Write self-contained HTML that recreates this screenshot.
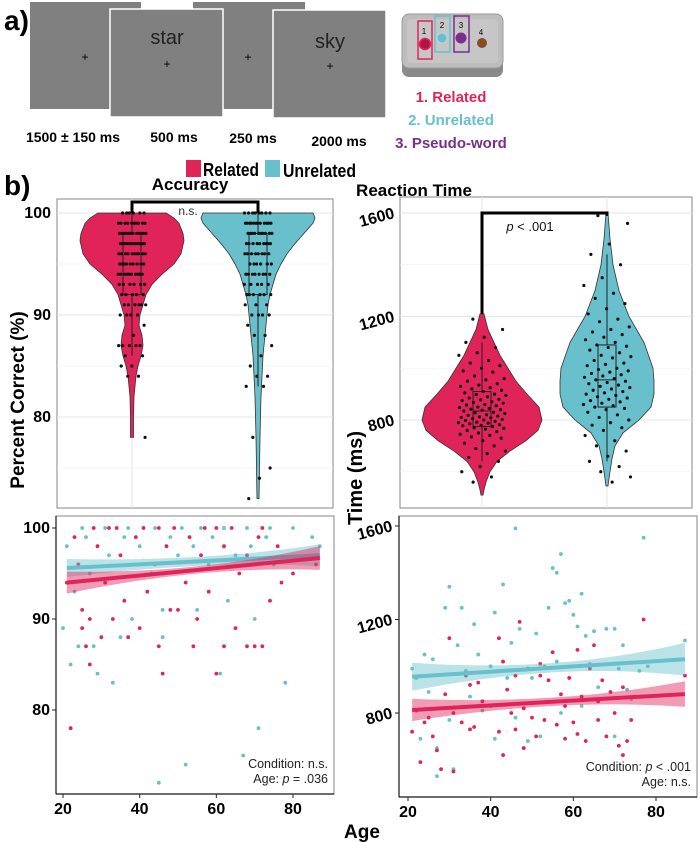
<!DOCTYPE html>
<html><head><meta charset="utf-8"><style>
html,body{margin:0;padding:0;background:#fff}
svg{display:block;font-family:"Liberation Sans",sans-serif}
</style></head><body>
<svg id="fig" width="700" height="842" viewBox="0 0 700 842" xmlns="http://www.w3.org/2000/svg">
<g>
<text x="4" y="30" font-size="28" font-weight="bold">a)</text>
<rect x="30" y="2" width="111" height="107" fill="#808080"/>
<text x="85" y="61" font-size="12" text-anchor="middle">+</text>
<rect x="193" y="2" width="112" height="107" fill="#808080"/>
<text x="248" y="61" font-size="12" text-anchor="middle">+</text>
<rect x="110" y="9" width="113" height="108" fill="#808080" stroke="#fff" stroke-width="1.5"/>
<text x="167" y="44" font-size="20" text-anchor="middle" fill="#222">star</text>
<text x="167" y="68" font-size="12" text-anchor="middle">+</text>
<rect x="273" y="10" width="113" height="108" fill="#808080" stroke="#fff" stroke-width="1.5"/>
<text x="330" y="48" font-size="20" text-anchor="middle" fill="#222">sky</text>
<text x="330" y="70" font-size="12" text-anchor="middle">+</text>
<g font-size="14" font-weight="bold" text-anchor="middle">
<text x="73" y="142">1500 ± 150 ms</text>
<text x="174" y="142">500 ms</text>
<text x="253" y="143">250 ms</text>
<text x="339" y="146">2000 ms</text>
</g>
<g>
<rect x="402" y="22" width="101" height="55" rx="7" fill="#8a8a8a"/>
<rect x="402" y="14" width="101" height="54" rx="7" fill="#bdbdbd" stroke="#9a9a9a"/>
<rect x="407" y="19" width="91" height="44" rx="4" fill="#c6c6c6"/>
<circle cx="425" cy="44" r="5.5" fill="#b0154a" stroke="#e0245a" stroke-width="1.5"/>
<circle cx="442" cy="38" r="5" fill="#67c0cc" stroke="#a5dce4"/>
<circle cx="461" cy="38" r="5.5" fill="#7b2d8e"/>
<circle cx="482" cy="43" r="5" fill="#8b4a2a"/>
<rect x="418" y="21" width="14" height="38" fill="none" stroke="#e0245a" stroke-width="1.5"/>
<rect x="435" y="16" width="15" height="36" fill="none" stroke="#67c0cc" stroke-width="1.5"/>
<rect x="454" y="16" width="15" height="36" fill="none" stroke="#7b2d8e" stroke-width="1.5"/>
<g font-size="8" text-anchor="middle"><text x="424" y="34">1</text><text x="442" y="28">2</text><text x="461" y="28">3</text><text x="481" y="35">4</text></g>
</g>
<g font-size="15" font-weight="bold" text-anchor="middle">
<text x="451" y="102" fill="#e0245a">1. Related</text>
<text x="451" y="125" fill="#67c0cc">2. Unrelated</text>
<text x="451" y="148" fill="#7b2d8e">3. Pseudo-word</text>
</g>
</g>
<text x="4" y="195" font-size="28" font-weight="bold">b)</text>
<g>
<rect x="186" y="160" width="15" height="17" fill="#e0245a"/>
<text x="203" y="176" font-size="18" font-weight="bold" textLength="56" lengthAdjust="spacingAndGlyphs">Related</text>
<rect x="265" y="160" width="15" height="17" fill="#67c0cc"/>
<text x="283" y="177" font-size="18" font-weight="bold" textLength="73" lengthAdjust="spacingAndGlyphs">Unrelated</text>
</g>
<text x="190" y="190" font-size="17" font-weight="bold" text-anchor="middle">Accuracy</text>
<text x="414" y="196" font-size="17" font-weight="bold" text-anchor="middle">Reaction Time</text>
<g id="charts"></g>
<text transform="translate(24,400) rotate(-90)" font-size="19" font-weight="bold" text-anchor="middle">Percent Correct (%)</text>
<text transform="translate(362,478) rotate(-90)" font-size="20" font-weight="bold" text-anchor="middle">Time (ms)</text>
<text x="362" y="838" font-size="19" font-weight="bold" text-anchor="middle">Age</text>
</svg>
<script>
// ---- data ----
const accLevels = [100,99,98,97,96,95,94,93,92,91,90,89,88,87,86,85,84,83,78,75,74,72];
const accRelCounts = [6,10,12,12,10,9,10,6,5,6,4,1,1,5,2,2,2,0,1,0,0,0];
const accUnrCounts = [8,12,10,9,8,6,8,5,6,3,4,1,2,1,1,1,2,2,1,1,1,1];
const violinAccRelV = [100,99.5,99,98,97.3,96,95,94,93,92,91,90,89,88,87,86,85,84,83,82,80,78];
const violinAccRelW = [34,42,47,51,52,49,42,30,20,14,11,8,7,10,11,9,6,4,3,2,1.5,1.5];
const violinAccUnrV = [100,99.5,99,98,97,96,95,94,93,92,91,90,89,88,87,86,85,84,82,80,78,75,73,72];
const violinAccUnrW = [55,57,55,46,37,29,23,18,15,12,10,9,8,7,6,5,4.5,4,3,2.5,2,1.5,1.2,1];
const violinRtRelV = [1210,1150,1100,1050,1000,950,900,850,800,760,720,680,640,600,560,530,510];
const violinRtRelW = [2,6,12,18,26,34,45,57,60,56,44,28,15,8,4,2,1];
const violinRtUnrV = [1600,1500,1400,1300,1200,1100,1000,950,900,850,800,750,700,650,600,560,545];
const violinRtUnrW = [1,3,6,12,22,37,46,47,47,44,32,16,8,5,3,1.5,1];
const rtRel = [1190,1150,1120,1100,1080,1060,1050,1030,1020,1010,1000,990,985,970,960,955,950,940,935,930,925,920,915,910,905,900,898,895,890,885,880,878,875,870,868,865,860,858,855,850,848,845,842,840,838,835,830,828,825,820,818,815,812,810,808,805,802,800,798,795,792,790,788,785,782,780,778,775,770,768,765,760,755,750,745,740,735,730,720,710,700,690,680,670,655,640,620,600,580,560];
const rtUnr = [1590,1560,1480,1440,1400,1350,1320,1290,1270,1250,1230,1210,1190,1180,1160,1150,1140,1130,1120,1110,1100,1090,1085,1080,1070,1060,1050,1045,1040,1030,1020,1015,1010,1000,995,990,985,980,975,970,965,960,955,950,945,940,935,930,925,920,915,910,905,900,895,890,885,880,875,870,865,860,855,850,845,840,830,820,810,800,790,780,770,760,740,720,700,680,660,640,620,600,580,560];
const accRelAge = [22,27,26,25,30,33,37,40,45,50,55,60,62,65,70,27,48,36,58,74,42,31,52,66,80,24,44,56,68,35,47,62,76,29,39,53,71,23,34,41,49,57,64,72,28,45,60,86,54,46,25,21,32,68,72,77];
const accRelAcc = [78,85,87,89,88,90,88,89,87,91,90,84,87,89,87,90,91,92,93,92,93,94,94,95,95,96,96,97,97,97,98,98,98,98,99,99,99,99,100,100,100,100,100,100,100,100,100,96,87,84,91,94,100,87,87,94];
const accUnrAge = [22,24,29,33,45,52,67,71,61,78,23,38,55,63,70,20,27,43,58,75,32,50,65,40,54,69,26,36,48,59,73,85,25,31,37,44,51,56,62,68,74,80,21,46,35,87,28,46];
const accUnrAcc = [85,87,84,83,72,74,75,78,84,83,93,90,91,92,90,89,95,95,96,96,97,97,97,98,98,98,99,99,99,99,99,99,100,100,100,100,100,100,100,100,100,100,98,91,88,98,87,88];
const rtRelAge = [21,23,24,25,26,27,28,29,30,31,31,33,34,35,36,37,40,42,42,43,43,45,46,46,47,48,48,49,50,51,52,53,54,55,56,57,58,59,60,61,61,62,63,64,65,66,67,68,69,70,71,72,73,74,75,77,87,22,38,44,58,66,72,52,35];
const rtRelMs = [720,590,760,780,700,640,560,880,1120,800,550,760,960,730,740,930,830,1120,720,1020,620,800,960,730,1190,820,650,990,780,700,1010,770,940,1060,750,880,690,950,760,1070,710,870,680,990,1090,770,940,700,890,800,660,620,680,770,870,1200,960,810,850,900,830,850,910,960,920];
const rtUnrAge = [21,22,23,24,25,26,27,27,29,30,31,32,33,34,35,36,37,38,40,41,41,43,44,45,46,47,48,49,50,51,52,53,54,55,56,57,57,58,59,60,61,62,63,64,65,66,68,70,71,72,73,74,77,78,87,76,62,46,30,70,56];
const rtUnrMs = [990,950,690,1050,890,1030,650,530,1250,1340,560,1090,1250,980,870,1180,1050,810,1000,1230,690,1350,950,1100,1590,1160,820,680,950,1140,700,1000,1250,1420,1400,1480,800,1270,1280,1220,1170,1310,1130,1010,1150,910,1160,1160,990,1090,900,860,1550,1000,1110,980,830,780,770,700,1020];
const accFitRel = [94.0, 96.7]; // fitted values at age 21 and 87
const accFitUnr = [95.6, 97.0];
const rtFitRel = [813, 881];
const rtFitUnr = [955, 1030];
const fitAges = [21, 87];

// ---- drawing ----
const NS = 'http://www.w3.org/2000/svg';
const root = document.getElementById('charts');
const RED = '#e0245a', CYAN = '#67c0cc';
function el(tag, attrs, parent) {
  const e = document.createElementNS(NS, tag);
  for (const k in attrs) e.setAttribute(k, attrs[k]);
  (parent || root).appendChild(e);
  return e;
}
function lin(d0, d1, r0, r1) { return v => r0 + (v - d0) * (r1 - r0) / (d1 - d0); }
function jit(i) { const f = (i * 0.6180339887 + 0.31) % 1; return f * 2 - 1; }

function frame(x0, y0, x1, y1, name) {
  const r = el('rect', {x:x0, y:y0, width:x1-x0, height:y1-y0, fill:'#fff', stroke:'#9a9a9a', 'stroke-width':1.2});
  
  
}
function gridY(x0, x1, ys, minor) {
  ys.forEach(y => el('line', {x1:x0, x2:x1, y1:y, y2:y, stroke:minor ? '#f2f2f2' : '#e6e6e6', 'stroke-width':minor ? 0.8 : 1}));
}
function yTicks(x, vals, sy, rot, name) {
  vals.forEach(v => {
    const t = el('text', {x:x, y:sy(v)+5, 'font-size':16, 'font-weight':'bold', 'text-anchor':'end'});
    if (rot) t.setAttribute('transform', `rotate(-15 ${x} ${sy(v)})`);
    t.textContent = v;
    
    
  });
}
function violin(cx, vs, ws, sy, color, name) {
  let l = [], r = [];
  vs.forEach((v, i) => { r.push((cx + ws[i]) + ',' + sy(v)); l.unshift((cx - ws[i]) + ',' + sy(v)); });
  const p = el('polygon', {points: r.concat(l).join(' '), fill: color, stroke:'#333', 'stroke-width':0.8});
  
  
}
function boxplot(cx, vals, sy, name) {
  const s = vals.slice().sort((a,b)=>a-b);
  const q = f => s[Math.floor(f*(s.length-1))];
  const g = el('g', {stroke:'#222', 'stroke-width':1, fill:'none'});
  
  
  el('rect', {x:cx-9, y:sy(q(0.75)), width:18, height:sy(q(0.25))-sy(q(0.75))}, g);
  el('line', {x1:cx-9, x2:cx+9, y1:sy(q(0.5)), y2:sy(q(0.5))}, g);
  el('line', {x1:cx, x2:cx, y1:sy(q(0.75)), y2:sy(q(0.97))}, g);
  el('line', {x1:cx, x2:cx, y1:sy(q(0.25)), y2:sy(q(0.05))}, g);
}
function dots(cx, vals, sy, spread, name) {
  const g = el('g', {fill:'#111'});
  
  
  vals.forEach((v, i) => {
    el('circle', {cx: cx + jit(i) * spread, cy: sy(v), r: 1.6}, g);
  });
}
function expand(levels, counts) {
  const out = [];
  levels.forEach((v, i) => { for (let k = 0; k < counts[i]; k++) out.push(v); });
  return out;
}

// --- Accuracy violin panel ---
(function(){
  const sy = lin(90, 100, 315, 213);
  frame(57, 199, 333, 508, 'accuracy-violin-panel');
  gridY(57, 333, [100,90,80].map(sy));
  gridY(57, 333, [95,85,75].map(sy), true);
  [132, 258].forEach(x => el('line', {x1:x, x2:x, y1:199, y2:508, stroke:'#e6e6e6'}));
  const rel = expand(accLevels, accRelCounts), unr = expand(accLevels, accUnrCounts);
  violin(132, violinAccRelV, violinAccRelW, sy, RED, 'violin-accuracy-related');
  violin(258, violinAccUnrV, violinAccUnrW, sy, CYAN, 'violin-accuracy-unrelated');
  boxplot(132, rel, sy, 'boxplot-accuracy-related');
  boxplot(258, unr, sy, 'boxplot-accuracy-unrelated');
  dots(132, rel, sy, 14, 'points-accuracy-related');
  dots(258, unr, sy, 14, 'points-accuracy-unrelated');
  const b = el('polyline', {points:'132,213 132,202 258,202 258,213', fill:'none', stroke:'#000', 'stroke-width':3});
  
  
  const t = el('text', {x:188, y:215, 'font-size':12, 'text-anchor':'middle', fill:'#333'}); t.textContent = 'n.s.';
  
  
  yTicks(51, [100,90,80], sy, false, 'accuracy-y-tick');
})();

// --- RT violin panel ---
(function(){
  const sy = lin(800, 1600, 420, 213);
  frame(400, 197, 692, 508, 'rt-violin-panel');
  gridY(400, 692, [1600,1200,800].map(sy));
  gridY(400, 692, [1400,1000,600].map(sy), true);
  [482, 607].forEach(x => el('line', {x1:x, x2:x, y1:197, y2:508, stroke:'#e6e6e6'}));
  violin(482, violinRtRelV, violinRtRelW, sy, RED, 'violin-rt-related');
  violin(607, violinRtUnrV, violinRtUnrW, sy, CYAN, 'violin-rt-unrelated');
  boxplot(482, rtRel, sy, 'boxplot-rt-related');
  boxplot(607, rtUnr, sy, 'boxplot-rt-unrelated');
  dots(482, rtRel, sy, 24, 'points-rt-related');
  dots(607, rtUnr, sy, 24, 'points-rt-unrelated');
  const b = el('polyline', {points:`482,${sy(1210)} 482,213 607,213 607,216`, fill:'none', stroke:'#000', 'stroke-width':3});
  
  
  const t = el('text', {x:530, y:231, 'font-size':13, 'text-anchor':'middle', fill:'#111'});
  t.innerHTML = '<tspan font-style="italic">p</tspan> &lt; .001';
  
  
  yTicks(394, [1600,1200,800], sy, true, 'rt-y-tick');
})();

function scatterPanel(o) {
  const {x0,y0,x1,y1,sx,sy} = o;
  frame(x0, y0, x1, y1, o.name);
  el('line', {x1:x0, x2:x0, y1:y0, y2:y1, stroke:'#222', 'stroke-width':1.2});
  el('line', {x1:x0, x2:x1, y1:y1, y2:y1, stroke:'#222', 'stroke-width':1.2});
  const series = [[o.unrAge, o.unrVal, CYAN, 'unrelated'], [o.relAge, o.relVal, RED, 'related']];
  series.forEach(([ag, vs, c, n]) => {
    const g = el('g', {fill:c});
    
    
    ag.forEach((a, i) => el('circle', {cx:sx(a), cy:sy(vs[i]), r:1.9}, g));
  });
  const fits = [[o.fitUnr, CYAN, '#67c0cc', 'unrelated', o.seUnr], [o.fitRel, RED, '#e0245a', 'related', o.seRel]];
  fits.forEach(([f, c, bc, n, se]) => {
    const fy = a => f[0] + (a - fitAges[0]) * (f[1] - f[0]) / (fitAges[1] - fitAges[0]);
    const mid = (fitAges[0] + fitAges[1]) / 2, half = (fitAges[1] - fitAges[0]) / 2;
    const w = a => se[0] + (se[1]-se[0]) * Math.pow((a - mid)/half, 2) * (a > mid ? 1 : se[2]);
    const up = [], dn = [];
    for (let a = fitAges[0]; a <= fitAges[1]; a += 2) { up.push(sx(a)+','+sy(fy(a)+w(a))); dn.unshift(sx(a)+','+sy(fy(a)-w(a))); }
    const b = el('polygon', {points: up.concat(dn).join(' '), fill:bc, 'fill-opacity':0.45});
    
    
    const l = el('line', {x1:sx(fitAges[0]), y1:sy(fy(fitAges[0])), x2:sx(fitAges[1]), y2:sy(fy(fitAges[1])), stroke:c, 'stroke-width':4});
    
    
  });
  [20,40,60,80].forEach(a => {
    el('line', {x1:sx(a), x2:sx(a), y1:y1, y2:y1+4, stroke:'#222'});
    const t = el('text', {x:sx(a), y:y1+20, 'font-size':16, 'font-weight':'bold', 'text-anchor':'middle'});
    t.textContent = a;
    
    
  });
  yTicks(o.tickX, o.ticks, sy, o.rot, o.prefix + '-y-tick');
  o.ticks.forEach(v => el('line', {x1:x0-4, x2:x0, y1:sy(v), y2:sy(v), stroke:'#222'}));
  o.notes.forEach((n, i) => {
    const t = el('text', {x:x1-6, y:y1-26+i*15, 'font-size':12.5, 'text-anchor':'end', fill:'#222'});
    t.innerHTML = n;
    
    
  });
}

scatterPanel({x0:56, y0:516, x1:334, y1:794, sx:lin(20,80,63,293), sy:lin(90,100,619,528),
  relAge:accRelAge, relVal:accRelAcc, unrAge:accUnrAge, unrVal:accUnrAcc,
  fitRel:accFitRel, fitUnr:accFitUnr, seRel:[0.4,1.3,0.9], seUnr:[0.5,1.2,0.7],
  ticks:[100,90,80], tickX:50, rot:false, prefix:'accuracy-age', name:'accuracy-age-panel',
  notes:['Condition: n.s.', 'Age: <tspan font-style="italic">p</tspan> = .036']});
scatterPanel({x0:399, y0:516, x1:697, y1:797, sx:lin(20,80,408,656), sy:lin(800,1600,713,526),
  relAge:rtRelAge, relVal:rtRelMs, unrAge:rtUnrAge, unrVal:rtUnrMs,
  fitRel:rtFitRel, fitUnr:rtFitUnr, seRel:[18,55,0.8], seUnr:[20,70,0.8],
  ticks:[1600,1200,800], tickX:392, rot:true, prefix:'rt-age', name:'rt-age-panel',
  notes:['Condition: <tspan font-style="italic">p</tspan> &lt; .001', 'Age: n.s.']});
</script>
</body></html>
